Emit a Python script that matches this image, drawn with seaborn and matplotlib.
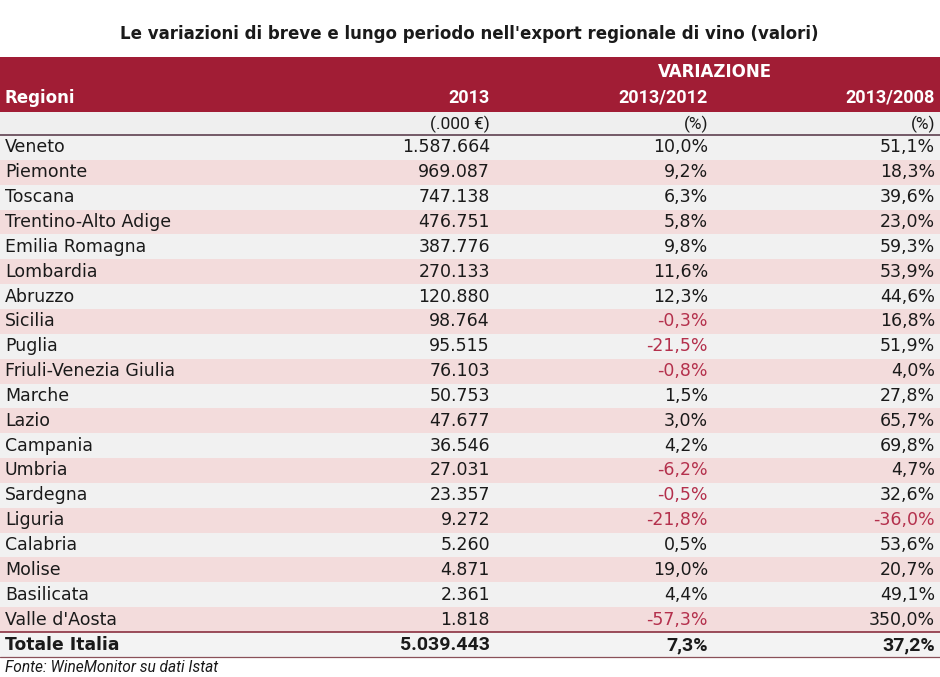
import matplotlib
matplotlib.use("Agg")
import matplotlib.pyplot as plt
import seaborn as sns

sns.set_theme(style="white")

regions = ["Veneto", "Piemonte", "Toscana", "Trentino-Alto Adige", "Emilia Romagna",
           "Lombardia", "Abruzzo", "Sicilia", "Puglia", "Friuli-Venezia Giulia",
           "Marche", "Lazio", "Campania", "Umbria", "Sardegna", "Liguria",
           "Calabria", "Molise", "Basilicata", "Valle d'Aosta"]
export_2013 = [1587664, 969087, 747138, 476751, 387776, 270133, 120880, 98764,
               95515, 76103, 50753, 47677, 36546, 27031, 23357, 9272, 5260,
               4871, 2361, 1818]
var_2012 = [10.0, 9.2, 6.3, 5.8, 9.8, 11.6, 12.3, -0.3, -21.5, -0.8, 1.5, 3.0,
            4.2, -6.2, -0.5, -21.8, 0.5, 19.0, 4.4, -57.3]
var_2008 = [51.1, 18.3, 39.6, 23.0, 59.3, 53.9, 44.6, 16.8, 51.9, 4.0, 27.8,
            65.7, 69.8, 4.7, 32.6, -36.0, 53.6, 20.7, 49.1, 350.0]
total_label = "Totale Italia"
total_values = [5039443, 7.3, 37.2]
headers = ["Regioni", "2013", "2013/2012", "2013/2008"]
units = ["", "(.000 €)", "(%)", "(%)"]
title = "Le variazioni di breve e lungo periodo nell'export regionale di vino (valori)"
source = "Fonte: WineMonitor su dati Istat"

plt.rcParams['font.family'] = ['DejaVu Sans']
CF = ['Roboto', 'DejaVu Sans']
DF = ['DejaVu Sans']


def fmt_int(v):
    return f"{v:,}".replace(",", ".")


def fmt_pct(v):
    return f"{v:.1f}%".replace(".", ",")


RED = "#a11d35"
PINK = "#f3dcdc"
GRAY = "#f1f1f1"
NEG = "#b4304c"
TXT = "#1a1a1a"

fig = plt.figure(figsize=(9.4, 6.77), dpi=100)
ax = fig.add_axes([0, 0, 1, 1])
ax.set_xlim(0, 940)
ax.set_ylim(677, 0)
ax.axis("off")

ax.text(469, 34, title, ha="center", va="center", fontsize=12, fontweight="bold",
        color=TXT, family=DF)

# header band
ax.axhspan(57, 112, color=RED, lw=0)
ax.text(715, 72, "VARIAZIONE", ha="center", va="center", fontsize=12,
        fontweight="bold", color="white", family=DF)
col_x = [5, 490, 708, 935]
for j, h in enumerate(headers):
    if j == 0:
        ax.text(col_x[j], 98, h, ha="left", va="center", fontsize=12,
                fontweight="bold", color="white", family=DF)
    else:
        ax.text(col_x[j], 98, h, ha="right", va="center", fontsize=13,
                fontweight="bold", color="white", family=CF)

# units row
ax.axhspan(112, 135, color="#efefef", lw=0)
for j, u in enumerate(units):
    if u:
        ax.text(col_x[j], 124, u, ha="right", va="center", fontsize=12.5, color=TXT,
                family=CF)
ax.plot([0, 940], [135, 135], color="#5e4050", lw=1.2)

y0 = 135
rh = 24.85
for i, r in enumerate(regions):
    top = y0 + i * rh
    ax.axhspan(top, top + rh, color=GRAY if i % 2 == 0 else PINK, lw=0)
    yc = top + rh / 2
    ax.text(col_x[0], yc, r, ha="left", va="center", fontsize=12.5, color=TXT)
    ax.text(col_x[1], yc, fmt_int(export_2013[i]), ha="right", va="center",
            fontsize=12.5, color=TXT)
    for j, v in ((2, var_2012[i]), (3, var_2008[i])):
        ax.text(col_x[j], yc, fmt_pct(v), ha="right", va="center", fontsize=12.5,
                color=NEG if v < 0 else TXT)

ytot_top = y0 + len(regions) * rh
ax.axhspan(ytot_top, ytot_top + rh, color="#f3f3f3", lw=0)
ax.plot([0, 940], [ytot_top, ytot_top], color="#8a3040", lw=1.2)
ax.plot([0, 940], [ytot_top + rh, ytot_top + rh], color="#8a5058", lw=0.9)
yc = ytot_top + rh / 2 + 1
ax.text(col_x[0], yc, total_label, ha="left", va="center", fontsize=12.3,
        fontweight="bold", color=TXT, family=DF)
ax.text(col_x[1], yc, fmt_int(total_values[0]), ha="right", va="center",
        fontsize=14, fontweight="bold", color=TXT, family=CF)
ax.text(col_x[2], yc, fmt_pct(total_values[1]), ha="right", va="center",
        fontsize=14, fontweight="bold", color=TXT, family=CF)
ax.text(col_x[3], yc, fmt_pct(total_values[2]), ha="right", va="center",
        fontsize=14, fontweight="bold", color=TXT, family=CF)

ax.text(5, 667, source, ha="left", va="center", fontsize=11.2, style="italic",
        color=TXT, family=CF)

fig.savefig("out.png", dpi=100, facecolor="white")
